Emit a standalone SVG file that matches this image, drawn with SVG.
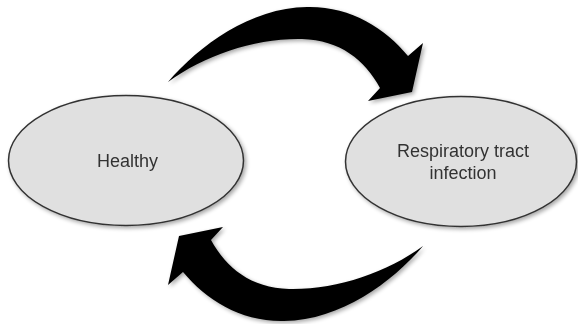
<svg xmlns="http://www.w3.org/2000/svg" width="578" height="324" viewBox="0 0 578 324">
  <defs>
    <filter id="shadow" x="-20%" y="-20%" width="140%" height="140%">
      <feGaussianBlur in="SourceAlpha" stdDeviation="2"/>
      <feOffset dx="2" dy="2" result="b"/>
      <feComponentTransfer><feFuncA type="linear" slope="0.35"/></feComponentTransfer>
      <feMerge><feMergeNode/><feMergeNode in="SourceGraphic"/></feMerge>
    </filter>
    <path id="arc" d="M168,82 C200,45 250,8 307,7 C350,6 385,28 408,56 L423,43 L412,92 L368,101 L380,88 C365,60 340,40 302,39 C255,38 205,55 168,82 Z"/>
  </defs>
  <style>
    .node { fill: #e0e0e0; stroke: #333333; stroke-width: 1.5; }
    .label { font-family: "Liberation Sans", Arial, sans-serif; font-size: 18px; fill: #333333; text-anchor: middle; }
    .arrow { fill: #000000; }
  </style>
  <rect width="578" height="324" fill="#ffffff"/>
  <g id="connectors" filter="url(#shadow)">
    <use href="#arc" class="arrow"/>
    <use href="#arc" class="arrow" transform="rotate(180 295.5 164)"/>
  </g>
  <g id="healthy" filter="url(#shadow)">
    <ellipse class="node" cx="126" cy="160.5" rx="117.5" ry="65"/>
    <text class="label" x="127.5" y="167">Healthy</text>
  </g>
  <g id="infection" filter="url(#shadow)">
    <ellipse class="node" cx="461" cy="161.5" rx="115.5" ry="65"/>
    <text class="label" x="463" y="157">Respiratory tract</text>
    <text class="label" x="463" y="179">infection</text>
  </g>
</svg>
